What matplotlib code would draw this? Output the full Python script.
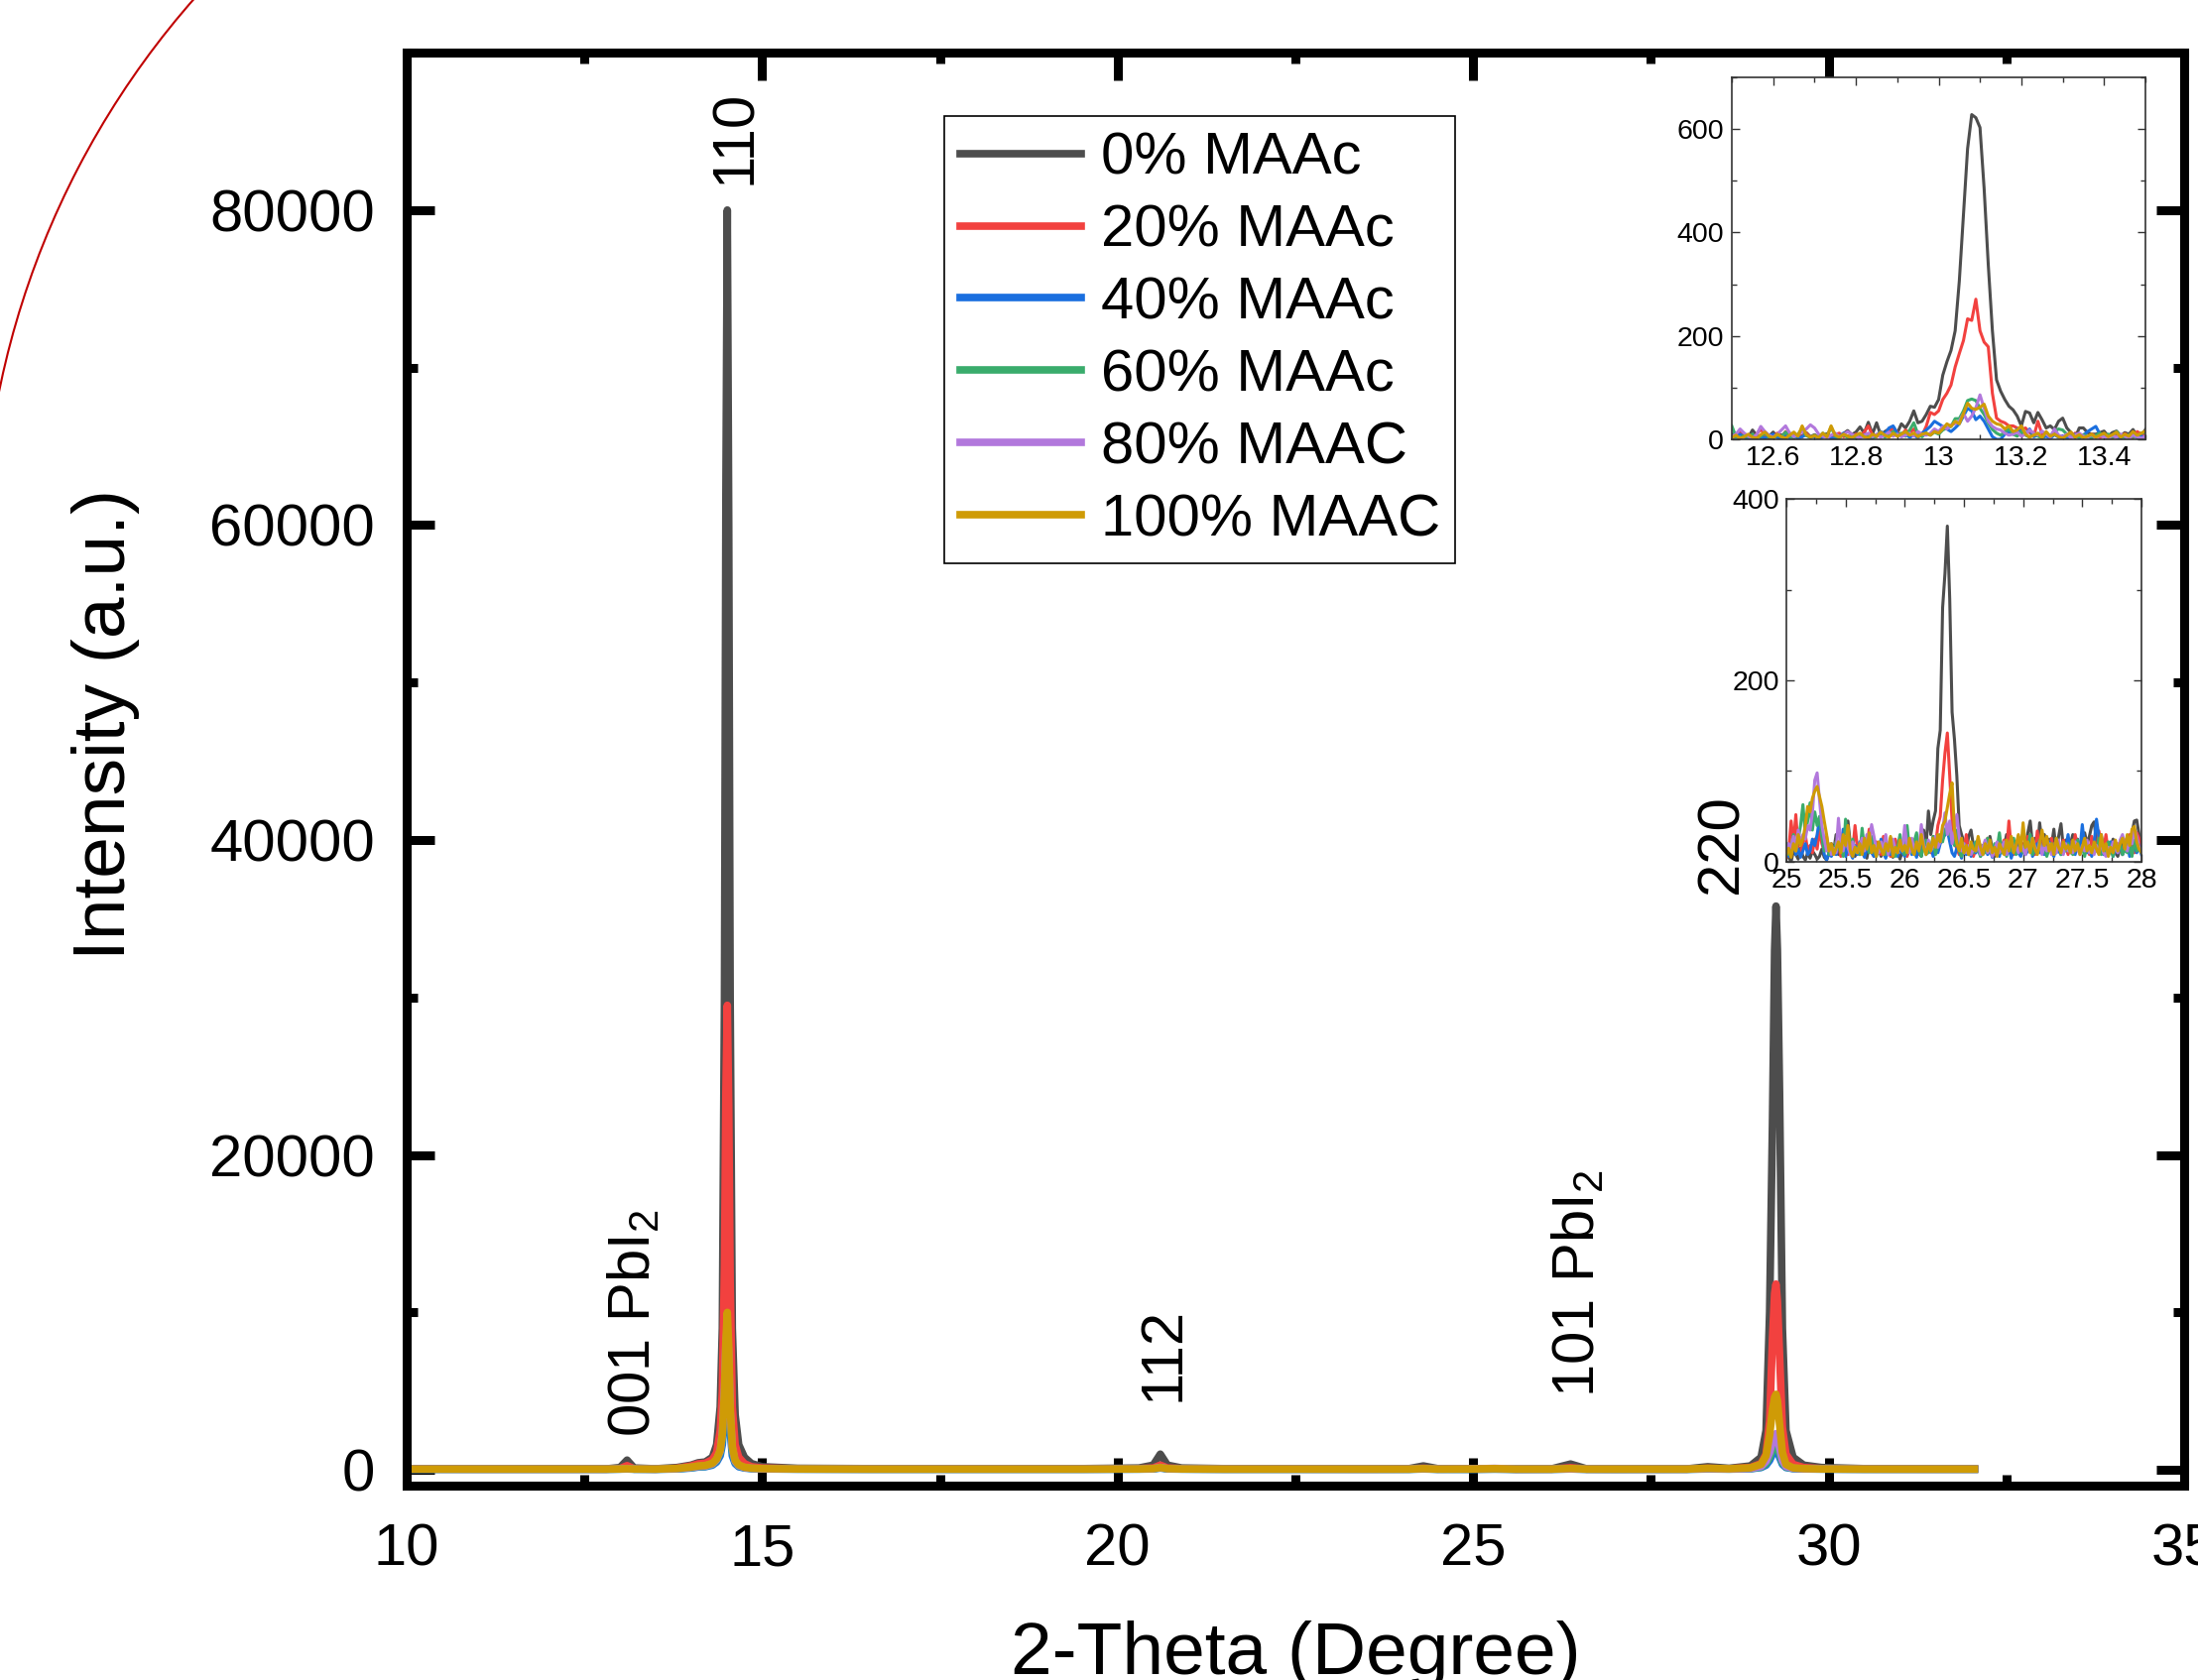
import matplotlib
matplotlib.use("Agg")
import matplotlib.pyplot as plt
from matplotlib.patches import Arc
from matplotlib.ticker import MultipleLocator, FuncFormatter
import numpy as np

plt.rcParams["font.family"] = "Liberation Sans"
plt.rcParams["mathtext.fontset"] = "custom"
plt.rcParams["mathtext.rm"] = "Liberation Sans"
plt.rcParams["mathtext.it"] = "Liberation Sans:italic"

LABELS = ["0% MAAc", "20% MAAc", "40% MAAc", "60% MAAc", "80% MAAC", "100% MAAC"]
COLORS = ["#4d4d4d", "#f2413f", "#1a6fdf", "#3aac6c", "#b278dc", "#cf9b06"]

# --- main pattern (2-theta, counts) ---
X_MAIN = [
    10.0, 11.0, 12.0, 12.8, 13.0, 13.1, 13.2, 13.5, 13.8, 14.0,
    14.1, 14.2, 14.3, 14.36, 14.41, 14.44, 14.47, 14.49, 14.51, 14.53,
    14.55, 14.58, 14.62, 14.67, 14.75, 14.85, 15.0, 15.5, 16.5, 17.5,
    18.5, 19.5, 20.3, 20.5, 20.6, 20.7, 20.9, 21.5, 22.5, 23.5,
    24.1, 24.3, 24.5, 25.0, 25.3, 25.6, 26.1, 26.37, 26.6, 27.0,
    28.0, 28.3, 28.6, 28.9, 29.05, 29.12, 29.17, 29.21, 29.24, 29.26,
    29.28, 29.31, 29.35, 29.4, 29.5, 29.65, 29.9, 30.5, 31.5, 32.05]

Y_0 = [
    80, 60, 70, 60, 150, 620, 120, 70, 150, 300,
    450, 500, 800, 1600, 4000, 9000, 30000, 62000, 80000, 60000,
    30000, 9000, 3500, 1600, 800, 400, 200, 100, 80, 80,
    70, 80, 120, 300, 1000, 300, 120, 80, 70, 60,
    80, 250, 80, 60, 70, 50, 60, 370, 60, 50,
    60, 200, 100, 250, 800, 2500, 10000, 22000, 33000, 35800,
    33000, 24000, 9000, 2500, 800, 300, 150, 80, 60, 60]
Y_20 = [
    60, 50, 50, 50, 80, 270, 70, 50, 100, 250,
    380, 420, 650, 1100, 2500, 5000, 13000, 24000, 29500, 23000,
    12000, 4000, 1600, 800, 400, 200, 120, 70, 60, 60,
    60, 60, 80, 120, 300, 120, 80, 60, 60, 50,
    60, 100, 60, 50, 60, 50, 50, 140, 50, 50,
    50, 100, 70, 150, 400, 1000, 3100, 8300, 11200, 11800,
    10700, 7300, 2700, 1000, 350, 150, 80, 60, 50, 50]
Y_40 = [
    40, 40, 40, 40, 50, 60, 45, 40, 60, 120,
    180, 200, 300, 500, 900, 1600, 3500, 5200, 6000, 4800,
    2500, 900, 400, 200, 120, 80, 60, 50, 40, 40,
    40, 40, 50, 60, 120, 60, 50, 40, 40, 40,
    40, 60, 40, 40, 50, 40, 40, 60, 40, 40,
    40, 60, 50, 70, 150, 300, 600, 1000, 1250, 1300,
    1200, 800, 350, 150, 80, 60, 50, 40, 40, 40]
Y_60 = [
    45, 45, 45, 45, 55, 80, 50, 45, 70, 140,
    200, 230, 350, 600, 1100, 2000, 4500, 7000, 8000, 6500,
    3300, 1200, 500, 250, 140, 90, 65, 50, 45, 45,
    45, 45, 55, 70, 150, 70, 55, 45, 45, 45,
    45, 70, 45, 45, 55, 45, 45, 65, 45, 45,
    45, 70, 55, 80, 180, 400, 800, 1300, 1600, 1700,
    1550, 1050, 450, 180, 90, 65, 55, 45, 45, 45]
Y_80 = [
    50, 50, 50, 50, 60, 85, 55, 50, 80, 160,
    220, 250, 380, 650, 1200, 2300, 5200, 8000, 9000, 7300,
    3800, 1400, 550, 280, 150, 100, 70, 55, 50, 50,
    50, 50, 60, 80, 160, 80, 60, 50, 50, 50,
    50, 80, 50, 60, 95, 50, 50, 60, 50, 50,
    50, 80, 60, 90, 220, 550, 1100, 1800, 2200, 2300,
    2100, 1400, 600, 220, 100, 70, 60, 50, 50, 50]
Y_100 = [
    50, 50, 50, 50, 60, 75, 55, 50, 90, 180,
    250, 280, 420, 700, 1250, 2300, 5000, 8200, 10000, 7800,
    4000, 1500, 620, 320, 170, 110, 80, 60, 50, 50,
    50, 50, 60, 80, 150, 80, 60, 50, 50, 50,
    50, 80, 50, 60, 80, 50, 50, 87, 50, 50,
    50, 100, 70, 130, 350, 900, 2200, 3800, 4600, 4800,
    4400, 2900, 1100, 350, 130, 80, 60, 50, 50, 50]

PEAK_LABELS = ["001 PbI$_2$", "110", "112", "101 PbI$_2$", "220"]
PEAK_X = [13.20, 14.625, 20.64, 26.48, 28.50]
PEAK_Y = [2080, 81600, 4340, 4600, 36600]

# --- inset 1: 12.50 .. 13.50, step 0.01 ---
INSET1_START, INSET1_STEP = 12.50, 0.01
IN1_0 = [
    10, 5, 12, 8, 4, 18, 8, 3, 10, 6,
    14, 4, 9, 5, 12, 3, 9, 6, 13, 5,
    9, 4, 7, 11, 5, 9, 4, 11, 17, 9,
    14, 24, 12, 33, 10, 32, 8, 15, 20, 24,
    12, 30, 22, 35, 55, 32, 35, 48, 64, 62,
    77, 124, 150, 172, 210, 306, 434, 562, 628, 622,
    603, 485, 338, 210, 115, 93, 77, 64, 57, 45,
    26, 54, 51, 32, 52, 38, 22, 26, 19, 35,
    41, 22, 13, 3, 22, 22, 13, 10, 10, 13,
    16, 6, 13, 16, 6, 13, 10, 19, 6, 6,
    19]
IN1_20 = [
    3, 8, 15, 6, 0, 5, 10, 20, 8, 2,
    6, 12, 4, 15, 7, 2, 9, 5, 12, 4,
    8, 3, 10, 6, 2, 9, 12, 5, 7, 3,
    10, 6, 14, 26, 8, 5, 12, 9, 15, 22,
    14, 8, 18, 12, 20, 10, 8, 25, 52, 48,
    55, 77, 89, 105, 140, 166, 191, 233, 230, 271,
    210, 188, 179, 89, 41, 35, 32, 26, 26, 22,
    19, 22, 13, 6, 35, 10, 8, 4, 12, 6,
    3, 9, 5, 12, 2, 7, 4, 10, 6, 3,
    8, 5, 2, 9, 4, 11, 6, 3, 15, 10,
    5]
IN1_40 = [
    2, 6, 10, 4, 0, 3, 8, 5, 2, 7,
    10, 4, 1, 6, 3, 8, 2, 5, 9, 3,
    6, 2, 4, 8, 3, 1, 5, 12, 4, 2,
    7, 3, 9, 5, 2, 8, 15, 10, 22, 26,
    12, 6, 10, 4, 8, 3, 12, 18, 25, 35,
    30, 25, 20, 15, 22, 30, 45, 60, 55, 38,
    45, 35, 20, 5, 0, 0, 10, 15, 10, 20,
    15, 10, 20, 5, 8, 3, 6, 2, 9, 4,
    7, 2, 5, 10, 4, 8, 15, 20, 25, 10,
    6, 3, 8, 4, 2, 7, 5, 10, 3, 6,
    4]
IN1_60 = [
    26, 5, 2, 8, 4, 10, 3, 6, 12, 4,
    2, 9, 5, 14, 6, 3, 10, 20, 7, 4,
    8, 3, 12, 5, 24, 6, 3, 9, 4, 7,
    2, 10, 5, 8, 3, 6, 12, 4, 9, 15,
    8, 12, 6, 18, 32, 10, 5, 12, 8, 14,
    10, 18, 22, 25, 40, 40, 55, 75, 78, 75,
    60, 48, 32, 19, 12, 8, 14, 20, 10, 6,
    15, 8, 4, 10, 6, 3, 12, 7, 15, 20,
    18, 10, 4, 8, 3, 9, 5, 2, 8, 12,
    6, 10, 4, 15, 8, 3, 9, 5, 7, 12,
    14]
IN1_80 = [
    5, 10, 20, 12, 6, 3, 9, 25, 15, 8,
    4, 10, 18, 26, 12, 5, 9, 14, 20, 28,
    22, 10, 6, 3, 8, 12, 5, 9, 15, 10,
    6, 3, 8, 12, 5, 10, 4, 8, 14, 6,
    10, 5, 8, 12, 6, 15, 10, 8, 12, 20,
    15, 25, 20, 28, 30, 35, 50, 35, 45, 61,
    86, 60, 35, 25, 20, 18, 12, 8, 10, 14,
    6, 10, 18, 12, 8, 16, 10, 4, 20, 8,
    5, 10, 3, 8, 12, 6, 4, 9, 3, 7,
    5, 2, 8, 4, 10, 6, 3, 8, 5, 2,
    6]
IN1_100 = [
    3, 8, 2, 5, 10, 4, 2, 9, 14, 6,
    3, 10, 5, 2, 8, 14, 6, 26, 9, 4,
    7, 3, 12, 5, 26, 8, 4, 10, 6, 3,
    8, 12, 5, 3, 10, 6, 14, 8, 4, 12,
    6, 10, 15, 8, 12, 5, 10, 12, 8, 15,
    12, 20, 30, 25, 35, 30, 50, 70, 60, 58,
    62, 68, 45, 35, 30, 28, 20, 26, 15, 18,
    26, 10, 4, 8, 12, 3, 15, 6, 10, 5,
    2, 8, 14, 4, 9, 3, 6, 10, 4, 8,
    12, 5, 9, 14, 4, 10, 6, 15, 8, 12,
    16]

# --- inset 2: 25.00 .. 28.00, step 0.02 ---
INSET2_START, INSET2_STEP = 25.00, 0.02
IN2_0 = [
    10, 5, 0, 12, 8, 3, 15, 6, 2, 10,
    4, 12, 8, 3, 6, 14, 5, 2, 9, 20,
    12, 30, 8, 15, 28, 10, 45, 20, 12, 6,
    15, 8, 22, 10, 4, 18, 12, 25, 9, 14,
    6, 20, 11, 8, 16, 5, 24, 10, 3, 12,
    18, 7, 14, 22, 9, 28, 12, 6, 35, 15,
    56, 30, 45, 56, 125, 145, 280, 318, 370, 290,
    165, 135, 95, 40, 30, 22, 12, 28, 35, 18,
    10, 25, 16, 8, 20, 12, 28, 14, 6, 18,
    24, 10, 16, 30, 12, 8, 22, 14, 28, 10,
    20, 15, 32, 45, 18, 26, 12, 43, 20, 30,
    14, 25, 18, 36, 10, 28, 42, 16, 24, 12,
    20, 30, 15, 25, 12, 18, 32, 20, 28, 40,
    44, 22, 16, 30, 12, 20, 8, 14, 25, 10,
    6, 15, 20, 12, 28, 18, 32, 45, 46, 30,
    15]
IN2_20 = [
    5, 12, 45, 20, 52, 15, 8, 22, 30, 12,
    18, 10, 25, 14, 35, 20, 12, 28, 8, 15,
    10, 22, 18, 6, 32, 14, 8, 20, 12, 40,
    16, 10, 25, 8, 18, 36, 12, 6, 22, 14,
    8, 28, 12, 18, 6, 14, 25, 10, 16, 20,
    12, 6, 18, 10, 24, 14, 8, 30, 16, 12,
    20, 10, 28, 18, 40, 50, 90, 120, 142, 95,
    45, 20, 15, 8, 22, 12, 30, 10, 16, 6,
    14, 22, 8, 18, 12, 26, 10, 16, 8, 20,
    12, 18, 24, 10, 45, 14, 8, 20, 12, 26,
    10, 16, 28, 12, 20, 8, 34, 14, 22, 10,
    18, 12, 26, 8, 20, 14, 10, 24, 16, 8,
    22, 12, 30, 16, 10, 26, 14, 20, 8, 28,
    18, 12, 34, 20, 14, 30, 10, 16, 8, 12,
    20, 14, 8, 24, 12, 30, 18, 10, 32, 26,
    20]
IN2_40 = [
    15, 6, 10, 22, 8, 14, 5, 12, 20, 8,
    12, 25, 18, 30, 47, 32, 8, 2, 10, 6,
    14, 8, 20, 12, 36, 6, 15, 10, 4, 18,
    8, 22, 12, 5, 15, 28, 10, 6, 18, 12,
    25, 10, 4, 14, 8, 20, 12, 6, 16, 10,
    6, 14, 20, 8, 12, 5, 18, 10, 22, 8,
    12, 18, 6, 14, 10, 20, 25, 30, 35, 22,
    10, 6, 15, 12, 4, 18, 8, 14, 6, 20,
    10, 16, 6, 12, 22, 8, 14, 5, 18, 10,
    6, 20, 12, 8, 16, 4, 14, 22, 10, 6,
    16, 8, 12, 28, 6, 14, 20, 10, 16, 8,
    14, 22, 10, 6, 18, 12, 8, 20, 14, 30,
    10, 16, 8, 22, 12, 41, 18, 10, 14, 6,
    20, 47, 28, 12, 8, 16, 10, 22, 6, 14,
    10, 18, 8, 14, 22, 6, 12, 18, 10, 16,
    8]
IN2_60 = [
    20, 8, 15, 30, 12, 25, 40, 63, 30, 45,
    65, 35, 55, 40, 50, 28, 12, 20, 8, 15,
    10, 22, 14, 18, 6, 47, 20, 12, 25, 10,
    16, 8, 37, 14, 20, 10, 28, 12, 6, 18,
    12, 20, 8, 14, 26, 10, 6, 16, 30, 12,
    8, 40, 14, 10, 22, 32, 12, 6, 18, 24,
    10, 14, 28, 8, 20, 30, 22, 35, 40, 30,
    25, 18, 35, 12, 6, 20, 14, 8, 16, 10,
    22, 14, 6, 18, 10, 26, 12, 8, 20, 14,
    32, 10, 16, 6, 20, 12, 26, 8, 14, 18,
    10, 22, 14, 30, 8, 16, 12, 24, 10, 18,
    6, 14, 20, 10, 26, 22, 8, 16, 12, 20,
    14, 8, 18, 24, 10, 16, 6, 20, 14, 10,
    18, 12, 26, 8, 16, 10, 22, 14, 6, 18,
    12, 20, 8, 14, 10, 18, 6, 24, 12, 16,
    14]
IN2_80 = [
    10, 20, 15, 28, 12, 35, 20, 30, 25, 40,
    35, 54, 90, 98, 68, 40, 25, 12, 20, 8,
    15, 10, 48, 20, 12, 28, 16, 8, 22, 14,
    10, 18, 26, 12, 30, 20, 41, 28, 14, 10,
    22, 12, 30, 8, 18, 25, 14, 10, 20, 12,
    40, 16, 10, 26, 12, 20, 14, 41, 18, 10,
    24, 12, 18, 28, 16, 22, 35, 54, 30, 45,
    20, 35, 52, 28, 12, 20, 10, 18, 8, 14,
    12, 20, 8, 16, 24, 10, 18, 6, 14, 22,
    10, 16, 22, 8, 14, 26, 12, 18, 10, 20,
    14, 8, 20, 12, 26, 16, 10, 22, 8, 18,
    12, 20, 8, 16, 10, 24, 14, 8, 20, 12,
    16, 10, 22, 14, 8, 18, 12, 24, 10, 16,
    8, 18, 12, 20, 10, 6, 16, 12, 22, 14,
    10, 24, 30, 18, 12, 26, 20, 36, 28, 16,
    12]
IN2_100 = [
    8, 15, 5, 20, 12, 30, 18, 25, 40, 61,
    55, 70, 78, 83, 72, 61, 45, 30, 12, 20,
    8, 15, 22, 10, 30, 18, 40, 12, 6, 16,
    10, 20, 8, 26, 14, 32, 10, 18, 6, 22,
    14, 8, 20, 12, 28, 6, 16, 10, 24, 12,
    18, 10, 26, 14, 8, 22, 12, 30, 16, 8,
    20, 12, 26, 16, 30, 22, 40, 45, 60, 75,
    87, 35, 20, 12, 26, 10, 18, 8, 22, 14,
    12, 28, 16, 8, 20, 12, 24, 10, 16, 6,
    20, 14, 8, 24, 12, 28, 10, 18, 30, 12,
    43, 16, 22, 10, 26, 14, 8, 20, 35, 18,
    28, 12, 20, 8, 26, 16, 10, 22, 14, 18,
    10, 24, 12, 20, 8, 16, 26, 12, 18, 10,
    22, 14, 8, 30, 12, 20, 6, 16, 10, 24,
    12, 20, 26, 14, 30, 18, 36, 39, 22, 14,
    10]

MAIN_Y = [Y_0, Y_20, Y_40, Y_60, Y_80, Y_100]
INSET1_Y = [IN1_0, IN1_20, IN1_40, IN1_60, IN1_80, IN1_100]
INSET2_Y = [IN2_0, IN2_20, IN2_40, IN2_60, IN2_80, IN2_100]

W, H = 2216, 1694
fig = plt.figure(figsize=(W / 100, H / 100), dpi=100)


def px_axes(x0, y0, x1, y1):
    """Axes from pixel box (top-left origin)."""
    return fig.add_axes([x0 / W, 1 - y1 / H, (x1 - x0) / W, (y1 - y0) / H])


# decorative red arc in the top-left corner
fig.add_artist(Arc((8.39, (H - 565) / 100), 17.14, 17.14, theta1=130, theta2=175,
                   transform=fig.dpi_scale_trans, color="#c00000", lw=1.5))

# --- main axes ---
ax = px_axes(410, 53, 2202, 1498)
for ys, c, lab in zip(MAIN_Y, COLORS, LABELS):
    ax.plot(X_MAIN, ys, color=c, lw=5.5, label=lab)
ax.set_xlim(10, 35)
ax.set_ylim(-1000, 90000)
ax.xaxis.set_major_locator(MultipleLocator(5))
ax.xaxis.set_minor_locator(MultipleLocator(2.5))
ax.yaxis.set_major_locator(MultipleLocator(20000))
ax.yaxis.set_minor_locator(MultipleLocator(10000))
ax.yaxis.set_major_formatter(FuncFormatter(lambda v, p: f"{v:.0f}"))
ax.tick_params(which="both", direction="in", top=True, right=True, width=6.5,
               labelsize=43)
ax.tick_params(which="major", length=20)
ax.tick_params(which="minor", length=8)
ax.tick_params(axis="x", pad=27)
ax.tick_params(axis="y", pad=23)
for s in ax.spines.values():
    s.set_linewidth(6.5)

ax.set_xlabel("2-Theta (Degree)", fontsize=54)
ax.xaxis.set_label_coords(0.5, -0.094)
ax.set_ylabel("Intensity (a.u.)", fontsize=54)
ax.yaxis.set_label_coords(-0.150, 0.531)

for s, x, y in zip(PEAK_LABELS, PEAK_X, PEAK_Y):
    ax.text(x, y, s, rotation=90, ha="center", va="bottom", fontsize=43)

leg = ax.legend(loc="upper left", bbox_to_anchor=(952 / W, 1 - 117 / H),
                bbox_transform=fig.transFigure, fontsize=43, fancybox=False,
                edgecolor="black", framealpha=1, borderaxespad=0, borderpad=0.26,
                labelspacing=0.3, handlelength=2.05, handletextpad=0.33)
leg.get_frame().set_linewidth(1.2)


def style_inset(a, xmaj, xmin, ymaj, ymin, xpad, ypad):
    a.xaxis.set_major_locator(MultipleLocator(xmaj))
    a.xaxis.set_minor_locator(MultipleLocator(xmin))
    a.yaxis.set_major_locator(MultipleLocator(ymaj))
    a.yaxis.set_minor_locator(MultipleLocator(ymin))
    fmt = FuncFormatter(lambda v, p: f"{v:g}")
    a.xaxis.set_major_formatter(fmt)
    a.yaxis.set_major_formatter(fmt)
    a.tick_params(which="both", direction="in", top=True, right=True, width=1,
                  color="#333333", labelsize=20.5)
    a.tick_params(which="major", length=6)
    a.tick_params(which="minor", length=3.5)
    a.tick_params(axis="x", pad=xpad)
    a.tick_params(axis="y", pad=ypad)
    for s in a.spines.values():
        s.set_linewidth(1.2)
        s.set_color("#333333")


# --- inset 1: 001 PbI2 region ---
ax1 = px_axes(1746, 78, 2163, 443)
x1 = INSET1_START + INSET1_STEP * np.arange(len(IN1_0))
for ys, c in zip(INSET1_Y, COLORS):
    ax1.plot(x1, ys, color=c, lw=2.2)
ax1.set_xlim(12.5, 13.5)
ax1.set_ylim(0, 700)
style_inset(ax1, 0.2, 0.1, 200, 100, 4, 6)

# --- inset 2: 101 PbI2 region ---
ax2 = px_axes(1801, 503, 2159, 869)
x2 = INSET2_START + INSET2_STEP * np.arange(len(IN2_0))
for ys, c in zip(INSET2_Y, COLORS):
    ax2.plot(x2, ys, color=c, lw=2.2)
ax2.set_xlim(25, 28)
ax2.set_ylim(0, 400)
style_inset(ax2, 0.5, 0.25, 200, 100, 4, 5)

fig.savefig("out.png", dpi=100)
